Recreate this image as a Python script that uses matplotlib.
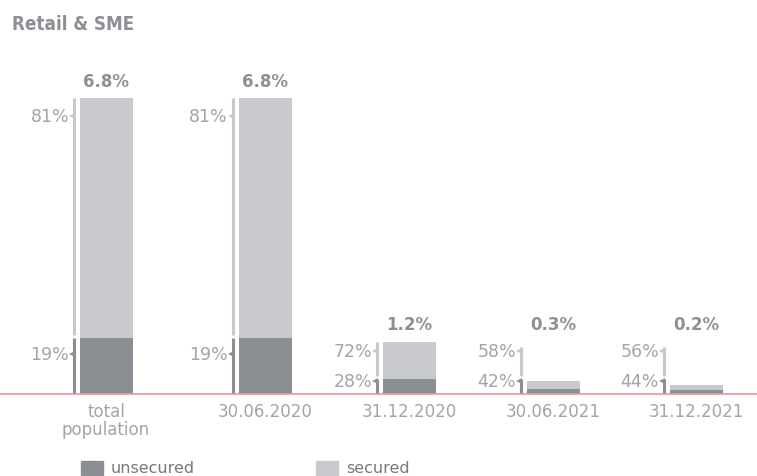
import matplotlib
matplotlib.use("Agg")
import matplotlib.pyplot as plt
from matplotlib.patches import Rectangle

categories = ["total\npopulation", "30.06.2020", "31.12.2020", "30.06.2021", "31.12.2021"]
totals = [6.8, 6.8, 1.2, 0.3, 0.2]            # % of portfolio
unsecured_share = [19, 19, 28, 42, 44]        # %
secured_share = [81, 81, 72, 58, 56]          # %
total_labels = ["6.8%", "6.8%", "1.2%", "0.3%", "0.2%"]

# layout (pixel-like x coordinates)
W, H = 757, 477
x_centers = [106, 265, 409, 553, 696]
bar_w = 53
base_px = 82          # baseline height from bottom in px
px_per_unit = 43.53

C_UNSEC = "#8b8f93"
C_SEC = "#c8c9cc"
C_TXT = "#a2a4a7"
C_BOLD = "#8e9194"
FONT = ["DejaVu Sans"]

fig = plt.figure(figsize=(W / 100, H / 100), dpi=100)
ax = fig.add_axes([0, 0, 1, 1])
ax.set_xlim(0, W)
ax.set_ylim(-base_px / px_per_unit, (H - base_px) / px_per_unit)
ax.axis("off")

u = 1 / px_per_unit  # one pixel in data units

for xc, tot, us, ss, tl, cat in zip(x_centers, totals, unsecured_share,
                                   secured_share, total_labels, categories):
    unsec = tot * us / 100
    left = xc - bar_w / 2
    ax.bar(xc, unsec, width=bar_w, color=C_UNSEC, linewidth=0)
    ax.bar(xc, tot - unsec, bottom=unsec, width=bar_w, color=C_SEC, linewidth=0)

    unsec_lab = max(unsec - 0.37, 0.31)
    sec_lab = max(tot - 0.41, unsec_lab + 0.67)
    bx = left - 6
    # unsecured bracket
    ax.plot([bx, bx], [0, max(unsec, unsec_lab + 2 * u)], color=C_UNSEC, lw=2.2,
            solid_capstyle="butt")
    ax.plot([bx - 2], [unsec_lab], marker="<", ms=5, color=C_UNSEC, mew=0)
    # secured bracket
    ax.plot([bx, bx], [max(unsec, unsec_lab + 2 * u) + 3 * u, max(tot, sec_lab + 4 * u)],
            color=C_SEC, lw=2.2, solid_capstyle="butt")
    ax.plot([bx - 2], [sec_lab], marker="<", ms=5, color=C_SEC, mew=0)

    ax.text(bx - 4.5, unsec_lab, f"{us}%", ha="right", va="center", fontsize=12.5,
            color=C_TXT, family=FONT)
    ax.text(bx - 4.5, sec_lab, f"{ss}%", ha="right", va="center", fontsize=12.5,
            color=C_TXT, family=FONT)
    ax.text(xc, max(tot + 0.40, sec_lab + 0.62), tl, ha="center", va="center",
            fontsize=12, fontweight="bold", color=C_BOLD, family=FONT)
    ax.text(xc, -8 * u, cat, ha="center", va="top", fontsize=12, color=C_TXT,
            family=FONT, linespacing=1.0)

# baseline
ax.plot([0, W], [0, 0], color="#e89a9a", lw=1.2)

# title
fig.text(12 / W, 1 - 24 / H, "Retail & SME", ha="left", va="center", fontsize=13.5,
         fontweight="bold", color="#8c9094", family=["DejaVu Sans"],
         fontstretch="condensed")

# legend
leg_y = 1 - 469 / H
fig.patches.append(Rectangle((81 / W, leg_y - 7 / H), 22 / W, 14 / H,
                             transform=fig.transFigure, color=C_UNSEC))
fig.text(111 / W, leg_y, "unsecured", ha="left", va="center", fontsize=11.5,
         color="#76797c", family=FONT)
fig.patches.append(Rectangle((316 / W, leg_y - 7 / H), 22 / W, 14 / H,
                             transform=fig.transFigure, color=C_SEC))
fig.text(346 / W, leg_y, "secured", ha="left", va="center", fontsize=11.5,
         color="#76797c", family=FONT)

fig.savefig("out.png", dpi=100)
